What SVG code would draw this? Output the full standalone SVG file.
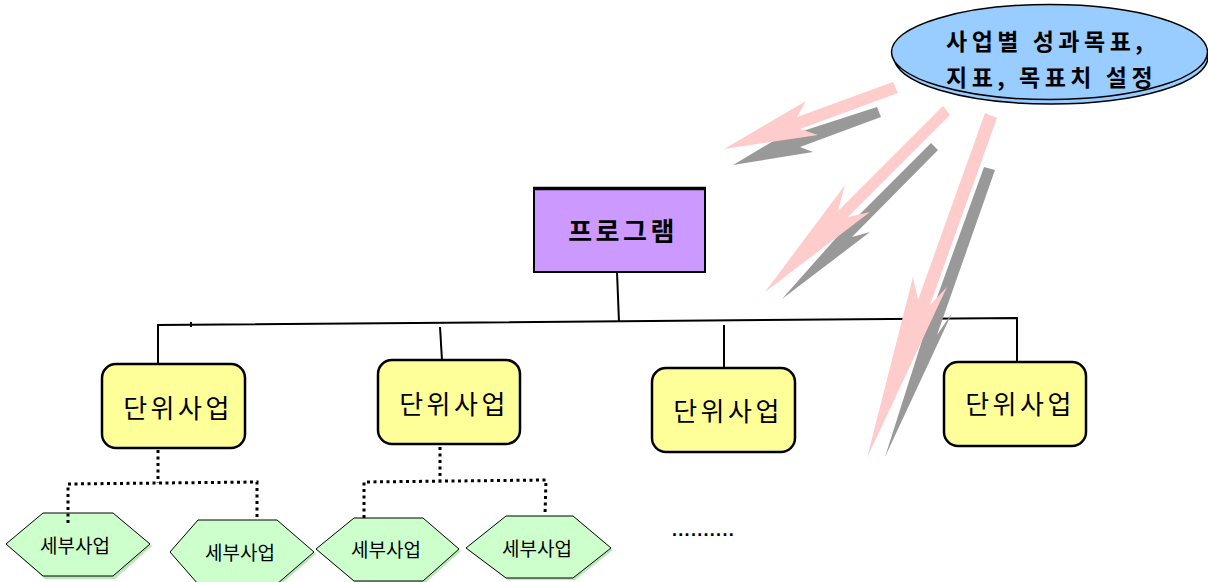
<svg xmlns="http://www.w3.org/2000/svg" width="1208" height="582" viewBox="0 0 1208 582">
<style>
.kr{font-family:"Noto Sans CJK KR","Noto Sans",sans-serif;text-anchor:middle;fill:#000}
.unit rect{fill:#FFFF99;stroke:#000;stroke-width:2.5}
.unit text{font-size:26px;letter-spacing:3.5px}
.hex polygon.f{fill:#CCFFCC;stroke:#000;stroke-width:1}
.hex polygon.s{fill:#B9E8B9}
.hex text{font-size:19px;letter-spacing:0px}
.solid{fill:none;stroke:#000;stroke-width:2}
.dot{fill:none;stroke:#000;stroke-width:3;stroke-dasharray:3 3.5}
.pink{fill:#FFCCCC}
.gray{fill:#999999}
.goal{font-family:"Noto Sans CJK KR","Noto Sans",sans-serif;font-size:23px;font-weight:bold;letter-spacing:4.5px;fill:#000}
</style>

<g id="connectors">
  <polyline class="solid" points="617,272 619,322"/>
  <polyline class="solid" points="158,365 158,325 1017,318 1017,361"/>
  <line class="solid" x1="191" y1="322" x2="191" y2="327"/>
  <line class="solid" x1="440" y1="327" x2="442" y2="360"/>
  <line class="solid" x1="724" y1="325" x2="724" y2="367"/>
</g>

<g id="arrows">
  <polygon class="gray" points="877,107 775,140 733,165 813,152 800,147 881,117"/>
  <polygon class="pink" points="893,82 797,117 806,101 724,149 818,135 800,129 898,93"/>
  <polygon class="gray" points="931,143 836,238 782,299 870,232 852,237 938,150"/>
  <polygon class="pink" points="943,106 838,211 845,185 765,292 870,212 848,217 950,115"/>
  <polygon class="gray" points="984,167 926,328 885,457 952,313 937,335 995,170"/>
  <polygon class="pink" points="985,113 918,300 913,277 867,458 947,287 930,305 997,118"/>
</g>

<g id="goal">
  <ellipse cx="1051" cy="57" rx="157" ry="47" fill="#99CCFF" stroke="#000" stroke-width="1.5"/>
  <ellipse cx="1049.5" cy="52" rx="158" ry="47.5" fill="#99CCFF" stroke="#000" stroke-width="1.5"/>
  <text class="goal" x="946" y="50">사업별 성과목표,</text>
  <text class="goal" x="946" y="86">지표, 목표치 설정</text>
</g>

<g id="program">
  <rect x="534" y="188" width="171" height="84" fill="#CC99FF" stroke="#000" stroke-width="2"/>
  <line x1="533" y1="188.5" x2="706" y2="188.5" stroke="#000" stroke-width="3.5"/>
  <text class="kr" x="623" y="241" font-size="26" font-weight="bold" letter-spacing="3.5">프로그램</text>
</g>

<g id="unit1" class="unit">
  <rect x="102" y="364" width="143" height="84" rx="14"/>
  <text class="kr" x="178" y="418">단위사업</text>
</g>
<g id="unit2" class="unit">
  <rect x="378" y="360" width="142" height="84" rx="14"/>
  <text class="kr" x="454" y="414">단위사업</text>
</g>
<g id="unit3" class="unit">
  <rect x="652" y="368" width="143" height="84" rx="14"/>
  <text class="kr" x="728" y="421">단위사업</text>
</g>
<g id="unit4" class="unit">
  <rect x="944" y="362" width="142" height="84" rx="14"/>
  <text class="kr" x="1020" y="414">단위사업</text>
</g>

<g id="sub1" class="hex">
  <polygon class="s" points="8,546 45,515 115,515 152,546 115,579 45,579"/>
  <polygon class="f" points="6,544 43,513 113,513 150,544 113,576 43,576"/>
  <text class="kr" x="75" y="553">세부사업</text>
</g>
<g id="sub2" class="hex">
  <polygon class="s" points="172,554 200,522 279,522 316,554 279,586 200,586"/>
  <polygon class="f" points="170,552 198,520 277,520 314,552 277,584 198,584"/>
  <text class="kr" x="240" y="560">세부사업</text>
</g>
<g id="sub3" class="hex">
  <polygon class="s" points="318,551 356,520 425,520 461,551 425,583 356,583"/>
  <polygon class="f" points="316,549 354,518 423,518 459,549 423,581 354,581"/>
  <text class="kr" x="386" y="557">세부사업</text>
</g>
<g id="sub4" class="hex">
  <polygon class="s" points="468,550 508,518 575,518 613,550 575,580 508,580"/>
  <polygon class="f" points="466,548 506,516 573,516 611,548 573,578 506,578"/>
  <text class="kr" x="537" y="556">세부사업</text>
</g>

<g id="dotted-connectors">
  <polyline class="dot" points="158,450 158,483"/>
  <polyline class="dot" points="68,523 68,484 257,482 257,518"/>
  <polyline class="dot" points="440,447 440,480"/>
  <polyline class="dot" points="364,518 364,482 546,480 545,515"/>
</g>

<text x="672" y="536" font-family="Liberation Sans, Arial, sans-serif" font-size="18" font-weight="bold" letter-spacing="1.3">..........</text>
</svg>
